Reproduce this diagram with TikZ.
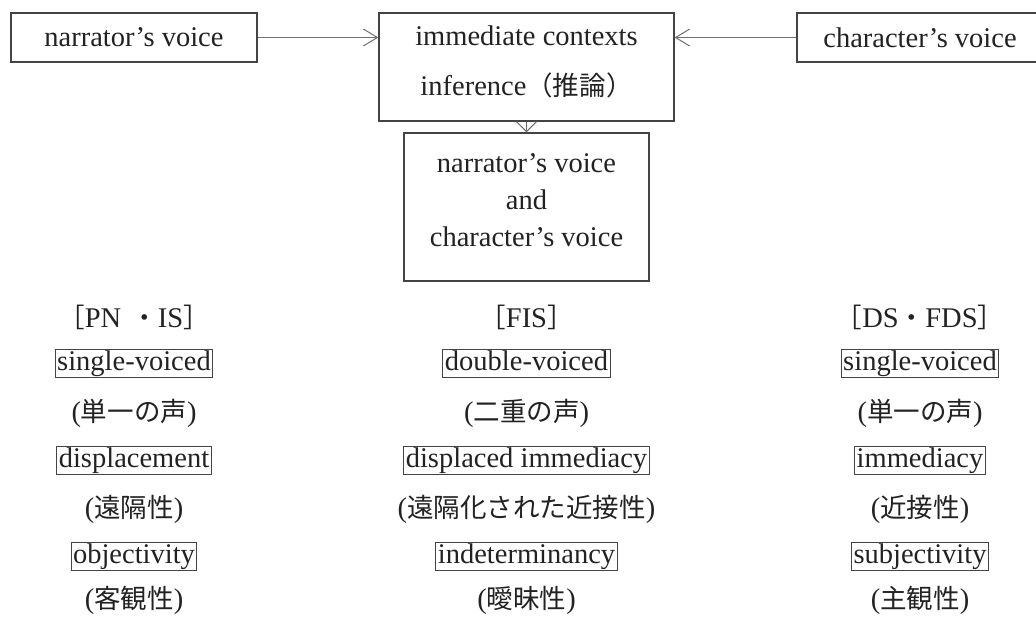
\documentclass[tikz,border=0pt]{standalone}
\usepackage{fontspec}
\setmainfont{Liberation Serif}
\newfontfamily\cjk[Scale=0.93]{Noto Sans CJK JP}
\usetikzlibrary{arrows.meta}
\definecolor{ink}{HTML}{222222}
\definecolor{frame}{HTML}{444444}
\definecolor{arrowc}{HTML}{707070}
\begin{document}
\begin{tikzpicture}[x=1pt,y=-1pt,
  every node/.style={text=ink, font=\fontsize{28.5}{37}\selectfont},
  bigbox/.style={draw=frame, line width=1.3pt, inner sep=0pt},
  plain/.style={inner sep=0pt},
  col/.style={text height=20pt, text depth=6pt, inner xsep=2pt, inner ysep=1pt},
  tagbox/.style={col, draw=frame, line width=1pt},
  conn/.style={draw=arrowc, line width=1pt, -{Straight Barb[length=14pt,width=17pt,line width=1pt]}},
  dconn/.style={draw=arrowc, line width=1pt, -{Straight Barb[length=10pt,width=20pt,line width=1pt]}}
]
\useasboundingbox (0,0) rectangle (1036,616);
\clip (0,0) rectangle (1036,616);

% top row
\node[bigbox, minimum width=246pt, minimum height=49pt] (nv) at (134,37.5) {narrator’s voice};
\node[bigbox, minimum width=295pt, minimum height=108pt] (ctx) at (526.5,67) {};
\node[plain, align=center] (ctxt) at (526.5,62) {immediate contexts\\[13pt]inference{\cjk （推論）}};
\node[bigbox, minimum width=246pt, minimum height=49pt] (cv) at (920,37.5) {character’s voice};

% merged box
\node[bigbox, minimum width=245pt, minimum height=148pt] (mix) at (526.5,207) {};
\node[plain, align=center] (mixt) at (526.5,200) {narrator’s voice\\and\\character’s voice};

% connectors
\draw[conn] (nv.east) -- (nv.east -| ctx.west);
\draw[conn] (cv.west) -- (cv.west -| ctx.east);
\draw[dconn] (ctx.south) -- (mix.north);

% left column
\node[col] (l1) at (134,320) {{\cjk ［}PN\hspace{10pt}{\cjk ・}IS{\cjk ］}};
\node[tagbox] (l2) at (134,363) {single-voiced};
\node[col] (l3) at (134,414) {({\cjk 単一の声})};
\node[tagbox] (l4) at (134,460) {displacement};
\node[col] (l5) at (134,510) {({\cjk 遠隔性})};
\node[tagbox] (l6) at (134,556) {objectivity};
\node[col] (l7) at (134,601) {({\cjk 客観性})};

% middle column
\node[col] (m1) at (526.5,320) {{\cjk ［}FIS{\cjk ］}};
\node[tagbox] (m2) at (526.5,363) {double-voiced};
\node[col] (m3) at (526.5,414) {({\cjk 二重の声})};
\node[tagbox] (m4) at (526.5,460) {displaced immediacy};
\node[col] (m5) at (526.5,510) {({\cjk 遠隔化された近接性})};
\node[tagbox] (m6) at (526.5,556) {indeterminancy};
\node[col] (m7) at (526.5,601) {({\cjk 曖昧性})};

% right column
\node[col] (r1) at (920,320) {{\cjk ［}DS{\cjk ・}FDS{\cjk ］}};
\node[tagbox] (r2) at (920,363) {single-voiced};
\node[col] (r3) at (920,414) {({\cjk 単一の声})};
\node[tagbox] (r4) at (920,460) {immediacy};
\node[col] (r5) at (920,510) {({\cjk 近接性})};
\node[tagbox] (r6) at (920,556) {subjectivity};
\node[col] (r7) at (920,601) {({\cjk 主観性})};
\end{tikzpicture}
\end{document}
